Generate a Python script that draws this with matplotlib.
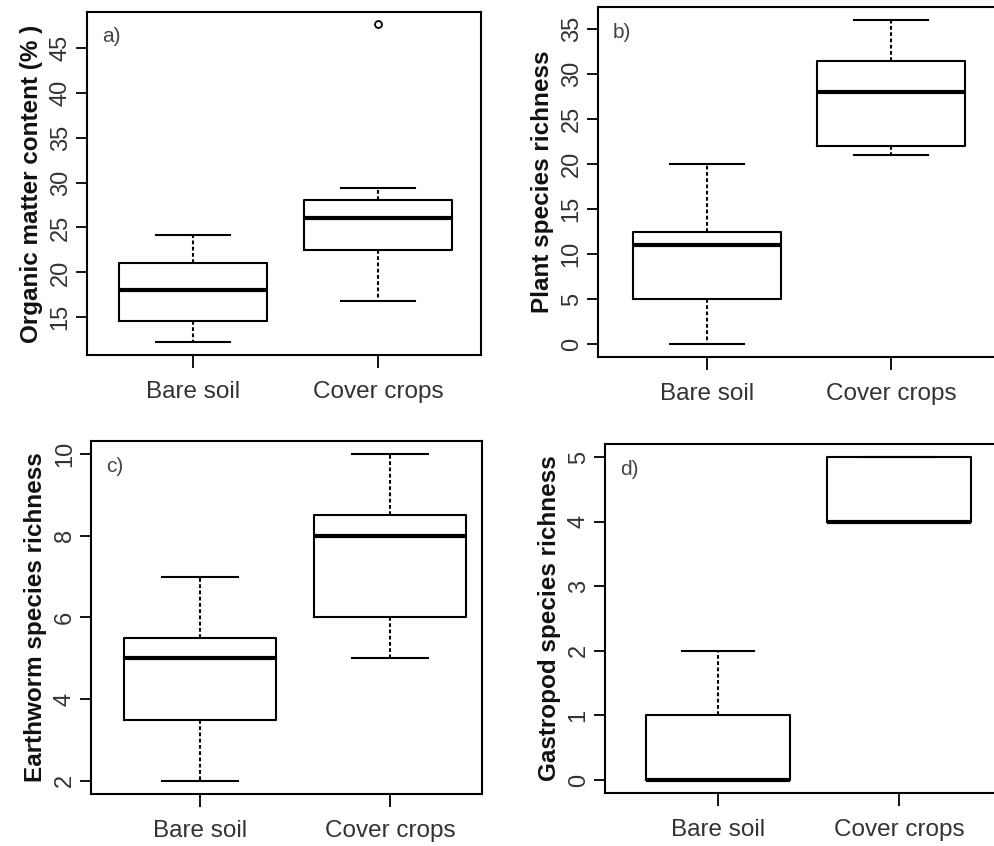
import matplotlib
matplotlib.use("Agg")
import matplotlib.pyplot as plt

plt.rcParams['font.family'] = ['Liberation Sans', 'DejaVu Sans']

groups = ["Bare soil", "Cover crops"]

# five-number summaries: low whisker, q1, median, q3, high whisker
organic_bare = [12.2, 14.6, 18.0, 21.1, 24.2]
organic_cover = [16.8, 22.5, 26.1, 28.1, 29.4]
organic_outliers = [[], [47.7]]

plant_bare = [0, 5, 11, 12.5, 20]
plant_cover = [21, 22, 28, 31.4, 36]

earthworm_bare = [2, 3.5, 5, 5.5, 7]
earthworm_cover = [5, 6, 8, 8.5, 10]

gastropod_bare = [0, 0, 0, 1, 2]
gastropod_cover = [4, 4, 4, 5, 5]

panels = [
    dict(rect=[0.0874, 0.5804, 0.396, 0.4054], xlim=(0.427, 2.557),
         data=[organic_bare, organic_cover], fliers=organic_outliers,
         ylabel="Organic matter content (% )", yticks=[15, 20, 25, 30, 35, 40, 45],
         tag="a)", ylim=(10.8, 49.0)),
    dict(rect=[0.601, 0.578, 0.401, 0.4137], xlim=(0.411, 2.573),
         data=[plant_bare, plant_cover], fliers=[[], []],
         ylabel="Plant species richness", yticks=[0, 5, 10, 15, 20, 25, 30, 35],
         tag="b)", ylim=(-1.44, 37.44)),
    dict(rect=[0.0915, 0.0615, 0.393, 0.4173], xlim=(0.426, 2.484),
         data=[earthworm_bare, earthworm_cover], fliers=[[], []],
         ylabel="Earthworm species richness", yticks=[2, 4, 6, 8, 10],
         tag="c)", ylim=(1.68, 10.32)),
    dict(rect=[0.608, 0.0626, 0.395, 0.4125], xlim=(0.376, 2.547),
         data=[gastropod_bare, gastropod_cover], fliers=[[], []],
         ylabel="Gastropod species richness", yticks=[0, 1, 2, 3, 4, 5],
         tag="d)", ylim=(-0.2, 5.2)),
]

fig = plt.figure(figsize=(9.95, 8.46), dpi=100)

for p in panels:
    ax = fig.add_axes(p["rect"])
    stats = []
    for name, s, fl in zip(groups, p["data"], p["fliers"]):
        stats.append(dict(label=name, whislo=s[0], q1=s[1], med=s[2],
                          q3=s[3], whishi=s[4], fliers=fl))
    ax.bxp(stats, positions=[1, 2], widths=0.8, showfliers=True,
           boxprops=dict(color="black", linewidth=1.5),
           medianprops=dict(color="black", linewidth=3),
           whiskerprops=dict(color="black", linewidth=1.5, linestyle=(0, (1.8, 1.2))),
           capprops=dict(color="black", linewidth=1.5),
           flierprops=dict(marker="o", markersize=5, markerfacecolor="white",
                           markeredgecolor="black", markeredgewidth=1.3),
           capwidths=0.4)
    ax.set_xlim(*p["xlim"])
    ax.set_ylim(*p["ylim"])
    ax.set_yticks(p["yticks"])
    ax.set_yticklabels([str(t) for t in p["yticks"]], rotation=90, va="center",
                       fontsize=17, color="#333333")
    ax.set_xticks([1, 2])
    ax.set_xticklabels(groups, fontsize=17.5, color="#333333")
    ax.tick_params(axis="y", length=8, width=1.3, pad=3)
    ax.tick_params(axis="x", length=9, width=1.3, pad=10)
    for sp in ax.spines.values():
        sp.set_linewidth(1.5)
    ax.set_ylabel(p["ylabel"], fontsize=17.5, fontweight="bold", color="#111111",
                  labelpad=5)
    ax.text(0.038, 0.955, p["tag"], transform=ax.transAxes, fontsize=15,
            color="#444444", va="top", ha="left")

fig.savefig("out.png", dpi=100)
